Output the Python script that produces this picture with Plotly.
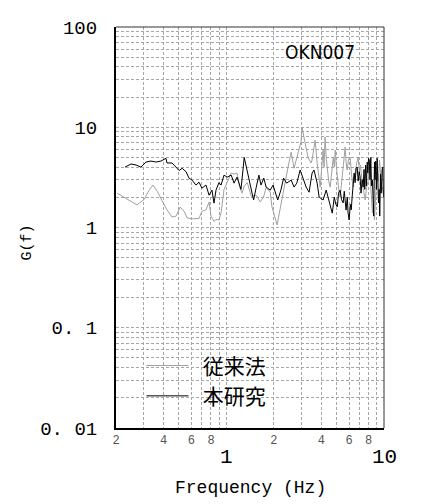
import math
import plotly.graph_objects as go

# 従来法 (conventional method) - gray
conv_f = [0.203, 0.225, 0.249, 0.272, 0.301, 0.324, 0.343, 0.365, 0.392, 0.421,
          0.453, 0.481, 0.510, 0.540, 0.564, 0.607, 0.672, 0.701, 0.744, 0.778,
          0.800, 0.836, 0.861, 0.899, 0.927, 0.968, 1.012, 1.075, 1.12, 1.17,
          1.22, 1.26, 1.30, 1.36, 1.44, 1.55, 1.64, 1.72, 1.79, 1.90,
          1.95, 2.04, 2.10, 2.19, 2.28, 2.38, 2.48, 2.58, 2.69, 2.80,
          2.98, 3.02, 3.15, 3.30, 3.45, 3.50, 3.66, 3.77, 3.94, 4.11,
          4.17, 4.23, 4.30, 4.37, 4.46, 4.56, 4.66, 4.77, 4.84, 4.91,
          4.98, 5.06, 5.16, 5.27, 5.38, 5.51, 5.59, 5.67, 5.75, 5.84,
          5.96, 6.10, 6.22, 6.37, 6.46, 6.56, 6.70, 6.86, 6.98, 7.10,
          7.27, 7.42, 7.60, 7.75, 7.95, 8.10, 8.25, 8.45, 8.58, 8.70,
          8.90, 9.10, 9.22, 9.37, 9.50, 9.65, 9.80, 9.94]
conv_g = [2.2, 2.0, 1.8, 1.68, 1.9, 2.35, 2.65, 2.3, 1.85, 1.5,
          1.27, 1.3, 1.6, 1.45, 1.25, 1.22, 1.23, 1.45, 1.5, 1.8,
          1.3, 1.15, 1.2, 1.19, 1.4, 2.4, 2.8, 3.5, 3.4, 3.5,
          2.5, 2.2, 2.6, 2.8, 2.05, 2.1, 1.8, 2.0, 2.5, 2.25,
          1.6, 1.27, 1.06, 1.5, 2.2, 3.0, 4.2, 5.65, 3.9, 5.0,
          7.2, 10.0, 7.2, 5.0, 4.4, 4.7, 7.45, 4.39, 2.53, 5.91,
          4.0, 7.98, 5.0, 3.74, 2.9, 2.53, 3.6, 5.05, 4.0, 5.91,
          4.2, 2.97, 2.4, 2.01, 3.0, 4.01, 5.0, 6.34, 4.5, 3.74,
          4.8, 5.05, 3.4, 2.53, 3.2, 3.49, 4.3, 5.05, 3.6, 4.2,
          2.77, 2.2, 1.88, 2.5, 2.97, 4.0, 2.2, 1.39, 1.7, 1.19,
          2.4, 3.49, 2.9, 4.71, 3.5, 2.2, 2.53, 2.01]

# 本研究 (this study) - black
this_f = [0.228, 0.249, 0.268, 0.288, 0.310, 0.333, 0.359, 0.386, 0.415, 0.421,
          0.453, 0.481, 0.503, 0.525, 0.556, 0.581, 0.607, 0.643, 0.672, 0.701,
          0.744, 0.778, 0.812, 0.836, 0.861, 0.899, 0.927, 0.968, 1.012, 1.075,
          1.12, 1.17, 1.22, 1.24, 1.30, 1.34, 1.42, 1.49, 1.55, 1.61,
          1.66, 1.73, 1.79, 1.90, 1.98, 2.04, 2.12, 2.22, 2.31, 2.41,
          2.58, 2.69, 2.80, 2.94, 3.06, 3.21, 3.35, 3.50, 3.60, 3.77,
          3.88, 4.11, 4.30, 4.49, 4.70, 4.84, 4.95, 5.06, 5.15, 5.27,
          5.38, 5.51, 5.60, 5.75, 5.85, 5.92, 6.01, 6.12, 6.20, 6.28,
          6.37, 6.47, 6.56, 6.66, 6.76, 6.86, 6.96, 7.06, 7.15, 7.27,
          7.38, 7.47, 7.55, 7.65, 7.73, 7.83, 7.90, 7.98, 8.07, 8.15,
          8.25, 8.33, 8.45, 8.52, 8.60, 8.70, 8.78, 8.86, 8.95, 9.05,
          9.12, 9.23, 9.32, 9.40, 9.50, 9.58, 9.65, 9.73, 9.82, 9.90,
          9.97]
this_g = [4.0, 4.3, 4.2, 4.0, 4.5, 4.6, 4.5, 4.6, 4.9, 4.4,
          4.4, 4.0, 3.7, 3.9, 3.6, 3.1, 2.97, 2.65, 2.83, 2.47,
          2.65, 2.1, 2.36, 1.75, 2.36, 2.8, 2.65, 3.33, 3.18, 3.33,
          2.77, 3.18, 2.5, 2.4, 5.0, 4.0, 2.8, 1.88, 2.53, 3.33,
          2.65, 3.11, 2.53, 2.36, 2.65, 2.25, 1.88, 2.36, 3.11, 2.77,
          2.97, 2.53, 2.77, 3.74, 3.11, 2.53, 2.25, 3.49, 3.74, 2.77,
          2.01, 1.88, 2.36, 1.76, 1.39, 2.01, 1.7, 1.61, 2.2, 2.36,
          1.9, 1.76, 2.3, 1.49, 2.0, 1.4, 1.19, 1.7, 1.5, 2.01,
          2.6, 3.49, 2.8, 3.9, 4.01, 2.9, 3.6, 3.18, 2.2, 3.0,
          2.53, 3.8, 2.4, 4.2, 2.6, 4.49, 3.5, 4.9, 4.71, 3.0,
          5.0, 2.6, 2.97, 1.6, 1.3, 4.5, 3.0, 4.6, 2.4, 4.9,
          3.2, 1.76, 2.4, 1.3, 3.4, 2.2, 2.53, 3.8, 4.0, 2.4,
          2.01]

x_minor_vals = [0.2, 0.4, 0.6, 0.8, 2, 4, 6, 8]
x_minor_text = ["2", "4", "6", "8", "2", "4", "6", "8"]
x_major_vals = [1, 10]
y_vals = [0.01, 0.1, 1, 10, 100]
y_text = ["0. 01", "0. 1", "1", "10", "100"]

MONO = "Liberation Mono, DejaVu Sans Mono, monospace"
CJK = "Noto Sans CJK JP"
NB = "\u00a0\u00a0"

fig = go.Figure()
fig.add_trace(go.Scatter(x=conv_f, y=conv_g, mode="lines", name=NB + "従来法",
                         line=dict(color="#a0a0a0", width=1)))
fig.add_trace(go.Scatter(x=this_f, y=this_g, mode="lines", name=NB + "本研究",
                         line=dict(color="#000000", width=1)))

grid = dict(showgrid=True, gridcolor="#a6a6a6", griddash="3px,2px", gridwidth=1)

fig.update_xaxes(type="log", range=[-0.69897, 1], tickvals=x_minor_vals,
                 ticktext=x_minor_text, tickfont=dict(family=MONO, size=12, color="#555"),
                 ticks="", ticklabelstandoff=0, showline=True, linecolor="black", linewidth=2,
                 minor=dict(dtick="D1", ticks="", **grid), zeroline=False,
                 automargin=False, **grid)
fig.update_yaxes(type="log", range=[-2, 2], tickvals=y_vals, ticktext=y_text,
                 tickfont=dict(family=MONO, size=19, color="black"),
                 ticks="", ticklabelstandoff=13, showline=True, linecolor="black", linewidth=2,
                 minor=dict(dtick="D1", ticks="", **grid), zeroline=False,
                 automargin=False, **grid)

annotations = []
for v in x_major_vals:
    annotations.append(dict(x=math.log10(v), y=0, xref="x", yref="paper", text=str(v),
                            showarrow=False, yanchor="top", yshift=-16,
                            font=dict(family=MONO, size=21, color="black")))
annotations.append(dict(x=0.5, y=0, xref="paper", yref="paper", text="Frequency (Hz)",
                        showarrow=False, xanchor="center", yanchor="middle", yshift=-60,
                        font=dict(family=MONO, size=18, color="black")))
annotations.append(dict(x=0, y=0.5, xref="paper", yref="paper", text="G(f)",
                        showarrow=False, xanchor="center", yanchor="middle", xshift=-89,
                        yshift=-15,
                        textangle=-90, font=dict(family=MONO, size=15, color="black")))
annotations.append(dict(x=0.899, y=0.938, xref="paper", yref="paper", text="OKN007",
                        showarrow=False, xanchor="right", yanchor="middle",
                        font=dict(family="DejaVu Sans Condensed, Liberation Sans Narrow, sans-serif",
                                  size=19, color="black")))

shapes = [
    dict(type="line", xref="paper", yref="paper", x0=0, x1=1, y0=1, y1=1,
         line=dict(color="#333", width=1)),
    dict(type="line", xref="paper", yref="paper", x0=1, x1=1, y0=0, y1=1,
         line=dict(color="#333", width=1)),
]

fig.update_layout(
    width=425, height=504,
    margin=dict(l=108, r=49, t=19, b=84),
    paper_bgcolor="white", plot_bgcolor="white",
    showlegend=True,
    legend=dict(x=0.095, y=0.206, xanchor="left", yanchor="top",
                bgcolor="rgba(0,0,0,0)", borderwidth=0, itemwidth=42,
                font=dict(family=CJK, size=21, color="black"),
                tracegroupgap=0),
    annotations=annotations,
    shapes=shapes,
)

fig.write_html("out.html")
